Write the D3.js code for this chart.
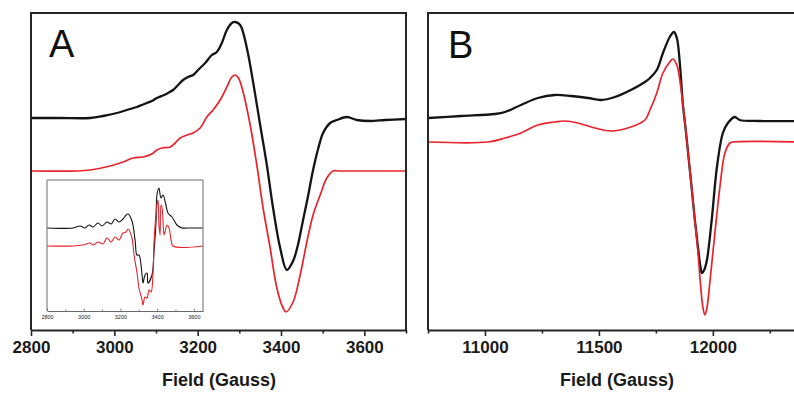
<!DOCTYPE html>
<html>
<head>
<meta charset="utf-8">
<script src="https://cdn.jsdelivr.net/npm/d3@7"></script>
<style>
  body { margin: 0; background: #fff; }
  text { font-family: Arial, "Liberation Sans", sans-serif; }
</style>
</head>
<body>
<svg id="chart" width="794" height="393"></svg>
<script>
// ---- data (field in Gauss, intensity in a.u., each trace relative to its own baseline)
// panel A, main spectrum
const fieldA_exp = [2800,2870,2942,2973,3006,3030,3054,3066,3078,3090,3102,3114,3129,3141,3153,3165,3177,3189,3201,3218,3234,3246,3258,3270,3282,3290,3302,3318,3333,3350,3366,3381,3398,3414,3429,3440,3452,3464,3477,3489,3501,3518,3534,3558,3582,3614,3650,3700];
const signalA_exp = [0,0,0,2,5,8,11,13,15,17,20,22,25,28,33,38,41,43,48,55,63,66,75,88,95,96,93,70,36,-7,-47,-90,-130,-152,-143,-128,-104,-80,-52,-31,-15,-5,-2,1,-2,-3,-2,-1];
const fieldA_sim = [2800,2913,2942,2990,3021,3045,3069,3090,3102,3114,3134,3146,3158,3174,3189,3206,3222,3237,3254,3270,3282,3290,3298,3309,3326,3342,3357,3374,3390,3405,3412,3429,3446,3462,3477,3494,3510,3525,3542,3700];
const signalA_sim = [0,0,1,5,9,13,14,17,21,23,24,28,33,36,38,43,54,61,71,84,94,96,93,79,46,6,-37,-77,-117,-137,-141,-131,-104,-71,-44,-24,-7,0,0,0];
const offsetA_exp = 53;

// panel A, inset
const fieldIn_exp = [2800,2942,2980,3007,3029,3051,3078,3100,3127,3149,3171,3192,3214,3231,3242,3263,3280,3290,3301,3318,3323,3334,3345,3350,3372,3383,3394,3399,3410,3421,3432,3448,3459,3481,3508,3536,3563,3650];
const signalIn_exp = [0,0,2,0,3,1,5,2,6,4,9,6,9,13,14,7,-12,-27,-27,-47,-55,-47,-45,-55,-47,-24,6,33,40,30,33,23,15,11,3,0,0,0];
const fieldIn_sim = [2800,2942,2996,3034,3051,3078,3105,3127,3149,3171,3192,3214,3231,3242,3263,3274,3290,3301,3318,3323,3334,3345,3356,3367,3378,3383,3389,3399,3405,3410,3416,3421,3427,3438,3443,3454,3465,3476,3487,3650];
const signalIn_sim = [0,0,1,3,1,4,2,8,4,9,6,13,14,17,8,-9,-26,-42,-54,-59,-51,-52,-44,-46,-26,4,21,41,46,21,11,41,38,11,14,21,18,6,0,0];
const offsetIn_exp = 18;

// panel B
const fieldB_exp = [10750,10895,11044,11088,11158,11232,11307,11377,11452,11509,11570,11640,11702,11724,11754,11781,11811,11829,11842,11855,11868,11882,11895,11908,11921,11934,11945,11952,11962,11974,11995,12018,12044,12066,12096,12118,12206,12400];
const signalB_exp = [0,2,4,6,13,20,23,22,20,18,21,28,36,40,48,65,81,86,80,55,15,-14,-43,-72,-102,-128,-148,-155,-152,-142,-102,-49,-15,-5,1,-2,-3,-3];
const fieldB_sim = [10750,11013,11088,11158,11232,11307,11351,11408,11482,11553,11627,11702,11724,11754,11781,11811,11825,11842,11855,11868,11882,11895,11908,11921,11934,11945,11956,11965,11974,11987,12009,12031,12053,12075,12088,12400];
const signalB_sim = [0,0,4,9,17,20,21,19,14,11,14,22,32,49,69,80,83,77,62,39,10,-19,-48,-78,-108,-140,-165,-173,-166,-140,-91,-45,-11,-1,0,0];
const offsetB_exp = 24;

const ticksA = [2800,3000,3200,3400,3600];
const minorA = [2900,3100,3300,3500,3700];
const ticksB = [11000,11500,12000];
const minorB = [10750,11250,11750,12250];
const ticksIn = [2800,3000,3200,3400,3600];
const minorIn = [2900,3100,3300,3500];

const BLACK = "#141414", RED = "#e8232b", FRAME = "#262626";

const svg = d3.select("#chart");

function zip(fs, ss, off) { return fs.map((f, i) => [f, ss[i] + off]); }

function panel(o) {
  const g = svg.append("g");
  const x = d3.scaleLinear().domain(o.xdom).range([o.left, o.right]);
  const y = d3.scaleLinear().domain(o.ydom).range([o.bottom, o.top]);
  const line = d3.line().x(d => x(d[0])).y(d => y(d[1])).curve(d3.curveCatmullRom.alpha(0.5));

  if (o.bg) g.append("rect").attr("x", o.left).attr("y", o.top)
      .attr("width", o.right - o.left).attr("height", o.bottom - o.top).attr("fill", "#fff");

  o.traces.forEach(t => {
    g.append("path").datum(t.data).attr("d", line)
      .attr("fill", "none").attr("stroke", t.color).attr("stroke-width", t.width)
      .attr("stroke-linejoin", "round");
  });

  // frame
  g.append("path")
    .attr("d", `M${o.left},${o.bottom}V${o.top}H${o.right}V${o.bottom}`)
    .attr("fill", "none").attr("stroke", o.frameColor).attr("stroke-width", o.frameWidth);

  const ax = g.append("g").attr("transform", `translate(0,${o.bottom})`)
    .call(d3.axisBottom(x).tickValues(o.ticks).tickFormat(d3.format("d"))
      .tickSize(o.tickSize).tickSizeOuter(0).tickPadding(o.pad));
  ax.select(".domain").attr("stroke", o.frameColor).attr("stroke-width", o.frameWidth);
  ax.selectAll(".tick line").attr("stroke", o.frameColor).attr("stroke-width", o.frameWidth * 0.8);
  ax.selectAll("text").attr("font-size", o.fontSize).attr("font-weight", o.fontWeight)
    .attr("fill", "#1a1a1a").style("font-family", "Arial, 'Liberation Sans', sans-serif");

  const mn = g.append("g").attr("transform", `translate(0,${o.bottom})`)
    .call(d3.axisBottom(x).tickValues(o.minor).tickFormat("").tickSize(o.minorSize).tickSizeOuter(0));
  mn.select(".domain").remove();
  mn.selectAll(".tick line").attr("stroke", o.frameColor).attr("stroke-width", o.frameWidth * 0.8);
  return g;
}

// panel A
panel({
  xdom: [2800, 3700], ydom: [-159, 158], left: 31, right: 406, top: 13, bottom: 330,
  ticks: ticksA, minor: minorA, tickSize: 6, minorSize: 3.5, pad: 5,
  fontSize: 17, fontWeight: "bold", frameColor: FRAME, frameWidth: 2,
  traces: [
    { data: zip(fieldA_exp, signalA_exp, offsetA_exp), color: BLACK, width: 2.3 },
    { data: zip(fieldA_sim, signalA_sim, 0), color: RED, width: 1.7 }
  ]
});

// inset in panel A
panel({
  xdom: [2800, 3650], ydom: [-65, 66], left: 47, right: 203, top: 180, bottom: 311, bg: true,
  ticks: ticksIn, minor: minorIn, tickSize: -2.5, minorSize: -1.5, pad: 4,
  fontSize: 5.5, fontWeight: "normal", frameColor: "#6a6a6a", frameWidth: 1,
  traces: [
    { data: zip(fieldIn_exp, signalIn_exp, offsetIn_exp), color: BLACK, width: 1.1 },
    { data: zip(fieldIn_sim, signalIn_sim, 0), color: RED, width: 1.1 }
  ]
});

// panel B
panel({
  xdom: [10750, 12400], ydom: [-188, 129], left: 428, right: 804, top: 13, bottom: 330,
  ticks: ticksB, minor: minorB, tickSize: 6, minorSize: 3.5, pad: 5,
  fontSize: 17, fontWeight: "bold", frameColor: FRAME, frameWidth: 2,
  traces: [
    { data: zip(fieldB_exp, signalB_exp, offsetB_exp), color: BLACK, width: 2.3 },
    { data: zip(fieldB_sim, signalB_sim, 0), color: RED, width: 1.7 }
  ]
});

// titles and panel letters
svg.append("text").attr("x", 219).attr("y", 386).attr("text-anchor", "middle")
  .attr("font-size", 18).attr("font-weight", "bold").attr("fill", "#1a1a1a").text("Field (Gauss)");
svg.append("text").attr("x", 617).attr("y", 386).attr("text-anchor", "middle")
  .attr("font-size", 18).attr("font-weight", "bold").attr("fill", "#1a1a1a").text("Field (Gauss)");
svg.append("text").attr("x", 49).attr("y", 57).attr("font-size", 38).attr("fill", "#111").text("A");
svg.append("text").attr("x", 448).attr("y", 58).attr("font-size", 38).attr("fill", "#111").text("B");
</script>
</body>
</html>
